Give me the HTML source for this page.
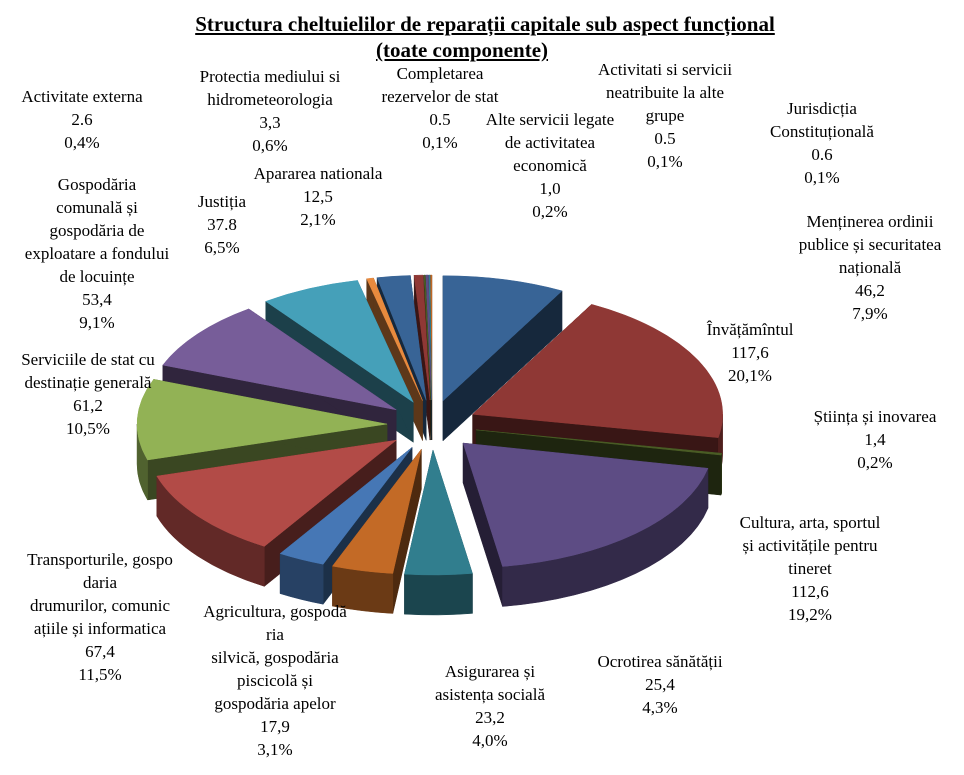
<!DOCTYPE html>
<html><head><meta charset="utf-8">
<style>
body{margin:0;background:#fff;}
#wrap{position:relative;width:964px;height:775px;overflow:hidden;font-family:"Liberation Serif",serif;}
.t{position:absolute;font-weight:bold;font-size:21px;text-decoration:underline;white-space:nowrap;transform:translateX(-50%);}
.lb{position:absolute;font-size:17px;line-height:23px;text-align:center;white-space:nowrap;transform:translateX(-50%);color:#000;}
svg{position:absolute;left:0;top:0;}
</style></head><body>
<div id="wrap">
<svg id="pie" width="964" height="775"></svg>
<div class="t" style="left:485px;top:12px">Structura cheltuielilor de reparații capitale sub aspect funcțional</div>
<div class="t" style="left:462px;top:38px">(toate componente)</div>
<div class="lb" style="left:82px;top:85px">Activitate externa<br>2.6<br>0,4%</div>
<div class="lb" style="left:270px;top:65px">Protectia mediului si<br>hidrometeorologia<br>3,3<br>0,6%</div>
<div class="lb" style="left:440px;top:62px">Completarea<br>rezervelor de stat<br>0.5<br>0,1%</div>
<div class="lb" style="left:665px;top:58px">Activitati si servicii<br>neatribuite la alte<br>grupe<br>0.5<br>0,1%</div>
<div class="lb" style="left:550px;top:108px">Alte servicii legate<br>de activitatea<br>economică<br>1,0<br>0,2%</div>
<div class="lb" style="left:822px;top:97px">Jurisdicția<br>Constituțională<br>0.6<br>0,1%</div>
<div class="lb" style="left:870px;top:210px">Menținerea ordinii<br>publice și securitatea<br>națională<br>46,2<br>7,9%</div>
<div class="lb" style="left:750px;top:318px">Învățămîntul<br>117,6<br>20,1%</div>
<div class="lb" style="left:875px;top:405px">Știința și inovarea<br>1,4<br>0,2%</div>
<div class="lb" style="left:810px;top:511px">Cultura, arta, sportul<br>și activitățile pentru<br>tineret<br>112,6<br>19,2%</div>
<div class="lb" style="left:660px;top:650px">Ocrotirea sănătății<br>25,4<br>4,3%</div>
<div class="lb" style="left:490px;top:660px">Asigurarea și<br>asistența socială<br>23,2<br>4,0%</div>
<div class="lb" style="left:275px;top:600px">Agricultura, gospodă<br>ria<br>silvică, gospodăria<br>piscicolă și<br>gospodăria apelor<br>17,9<br>3,1%</div>
<div class="lb" style="left:100px;top:548px">Transporturile, gospo<br>daria<br>drumurilor, comunic<br>ațiile și informatica<br>67,4<br>11,5%</div>
<div class="lb" style="left:88px;top:348px">Serviciile de stat cu<br>destinație generală<br>61,2<br>10,5%</div>
<div class="lb" style="left:97px;top:173px">Gospodăria<br>comunală și<br>gospodăria de<br>exploatare a fondului<br>de locuințe<br>53,4<br>9,1%</div>
<div class="lb" style="left:222px;top:190px">Justiția<br>37.8<br>6,5%</div>
<div class="lb" style="left:318px;top:162px">Apararea nationala<br>12,5<br>2,1%</div>
</div>
<script>
const categories=["Mentinerea ordinii","Invatamintul","Stiinta","Cultura","Ocrotirea sanatatii","Asigurarea sociala","Agricultura","Transporturile","Serviciile de stat","Gospodaria comunala","Justitia","Activitate externa","Apararea nationala","Protectia mediului","Completarea rezervelor","Alte servicii","Activitati neatribuite","Jurisdictia"];
const values=[46.2,117.6,1.4,112.6,25.4,23.2,17.9,67.4,61.2,53.4,37.8,2.6,12.5,3.3,0.5,1.0,0.5,0.6];
const palette=["#3F6A9C","#953735","#4F6228","#5F4B8B","#31859C","#E46C0A","#4677B5","#B24B47","#92B255","#775D99","#45A0B9","#E88A3E"];
const topColors=["#386496","#8F3835","#4A5C25","#5D4C84","#317E8E","#C36A26","#4677B5","#B24B47","#92B255","#775D99","#45A0B9","#E88A3E"];
const CX=432,CY=425,RX=250,RY=125,DEPTH=40,EX=45,EY=25;
const svg=document.getElementById('pie');
const NS='http://www.w3.org/2000/svg';
function shade(hex,f){const n=parseInt(hex.slice(1),16);const r=Math.round(((n>>16)&255)*f),g=Math.round(((n>>8)&255)*f),b=Math.round((n&255)*f);return `rgb(${r},${g},${b})`;}
const total=values.reduce((a,b)=>a+b,0);
let acc=0;const slices=[];
values.forEach((v,i)=>{const a0=acc/total*2*Math.PI;acc+=v;const a1=acc/total*2*Math.PI;slices.push({i,a0,a1,mid:(a0+a1)/2});});
function pt(ox,oy,t,d){return [ox+RX*Math.sin(t),oy-RY*Math.cos(t)+(d||0)];}
slices.sort((a,b)=>Math.cos(b.mid)-Math.cos(a.mid));
slices.forEach(s=>{
  const col=topColors[s.i%topColors.length];
  const ox=CX+EX*Math.sin(s.mid),oy=CY-EY*Math.cos(s.mid);
  const g=document.createElementNS(NS,'g');
  
  
  const add=(d,fill)=>{const p=document.createElementNS(NS,'path');p.setAttribute('d',d);p.setAttribute('fill',fill);p.setAttribute('stroke',fill);p.setAttribute('stroke-width','0.5');g.appendChild(p);};
  [s.a0,s.a1].forEach(t=>{const p=pt(ox,oy,t);add(`M${ox},${oy}L${p[0]},${p[1]}L${p[0]},${p[1]+DEPTH}L${ox},${oy+DEPTH}Z`,shade(col,0.4));});
  const st=Math.max(s.a0,Math.PI/2),en=Math.min(s.a1,3*Math.PI/2);
  if(en>st){const p0=pt(ox,oy,st),p1=pt(ox,oy,en);const lg=(en-st)>Math.PI?1:0;
    add(`M${p0[0]},${p0[1]}A${RX},${RY} 0 ${lg} 1 ${p1[0]},${p1[1]}L${p1[0]},${p1[1]+DEPTH}A${RX},${RY} 0 ${lg} 0 ${p0[0]},${p0[1]+DEPTH}Z`,shade(col,0.55));}
  const q0=pt(ox,oy,s.a0),q1=pt(ox,oy,s.a1);const lg=(s.a1-s.a0)>Math.PI?1:0;
  add(`M${ox},${oy}L${q0[0]},${q0[1]}A${RX},${RY} 0 ${lg} 1 ${q1[0]},${q1[1]}Z`,col);
  svg.appendChild(g);
});
</script>
</body></html>
